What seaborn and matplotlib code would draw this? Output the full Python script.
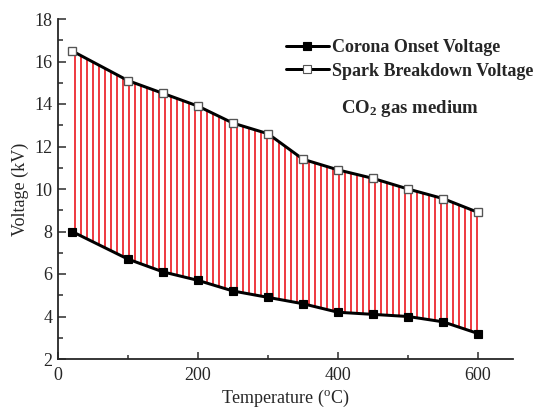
import matplotlib.pyplot as plt
import seaborn as sns
import pandas as pd
from matplotlib.ticker import MultipleLocator

temperature = [20, 100, 150, 200, 250, 300, 350, 400, 450, 500, 550, 600]
corona_onset = [8.0, 6.7, 6.1, 5.7, 5.2, 4.9, 4.6, 4.2, 4.1, 4.0, 3.75, 3.2]
spark_breakdown = [16.5, 15.1, 14.5, 13.9, 13.1, 12.6, 11.4, 10.9, 10.5, 10.0, 9.55, 8.9]
series_names = ["Corona Onset Voltage", "Spark Breakdown Voltage"]

df = pd.DataFrame({"Temperature": temperature,
                   series_names[0]: corona_onset,
                   series_names[1]: spark_breakdown})
long_df = df.melt(id_vars="Temperature", var_name="series", value_name="Voltage")

sns.set_theme(style="ticks")
plt.rcParams["font.family"] = ["Liberation Serif", "DejaVu Serif"]
plt.rcParams["hatch.linewidth"] = 1.3

DPI = 108
fig = plt.figure(figsize=(539 / DPI, 410 / DPI), dpi=DPI)
ax = fig.add_axes([58 / 539, 51 / 410, 455 / 539, 340 / 410])

# red vertical hatching between the two curves
ax.fill_between(df["Temperature"], df[series_names[0]], df[series_names[1]],
                facecolor="none", edgecolor="#ee3a40", hatch="|||", linewidth=0)

sns.lineplot(data=long_df, x="Temperature", y="Voltage", hue="series", style="series",
             palette=["black", "black"], markers=["s", "s"], dashes=False,
             linewidth=2.0, markersize=5, ax=ax, zorder=3)
lines = ax.get_lines()
lines[0].set_markerfacecolor("black")
lines[0].set_markeredgecolor("black")
lines[1].set_markerfacecolor("white")
lines[1].set_markeredgecolor("#555555")
lines[1].set_markeredgewidth(0.9)

ax.set_xlim(0, 650)
ax.set_ylim(2, 18)
ax.xaxis.set_major_locator(MultipleLocator(200))
ax.xaxis.set_minor_locator(MultipleLocator(100))
ax.yaxis.set_major_locator(MultipleLocator(2))
ax.yaxis.set_minor_locator(MultipleLocator(1))
ax.tick_params(which="both", direction="in", labelsize=12, width=1)
ax.tick_params(axis="x", pad=5)
ax.tick_params(which="major", length=5)
ax.tick_params(which="minor", length=3)
for s in ["top", "right"]:
    ax.spines[s].set_visible(False)
for s in ["left", "bottom"]:
    ax.spines[s].set_linewidth(1.2)

ax.set_xlabel("Temperature ($\\mathregular{^oC}$)", fontsize=12, labelpad=3)
ax.set_ylabel("Voltage (kV)", fontsize=12, labelpad=4)

h, l = ax.get_legend_handles_labels()
for hd, ln in zip(h, lines[:2]):
    hd.set_markerfacecolor(ln.get_markerfacecolor())
    hd.set_markeredgecolor(ln.get_markeredgecolor())
ax.legend(h, l, loc="upper left", bbox_to_anchor=(0.5, 0.94), frameon=False,
          prop={"weight": "bold", "size": 12}, handlelength=2.4, handletextpad=0.2,
          labelspacing=0.35, borderaxespad=0.0, borderpad=0.0)

ax.text(0.774, 0.738, "CO$\\mathregular{_2}$ gas medium", transform=ax.transAxes,
        ha="center", va="center", fontsize=12.5, fontweight="bold")

fig.savefig("out.png", dpi=DPI)
